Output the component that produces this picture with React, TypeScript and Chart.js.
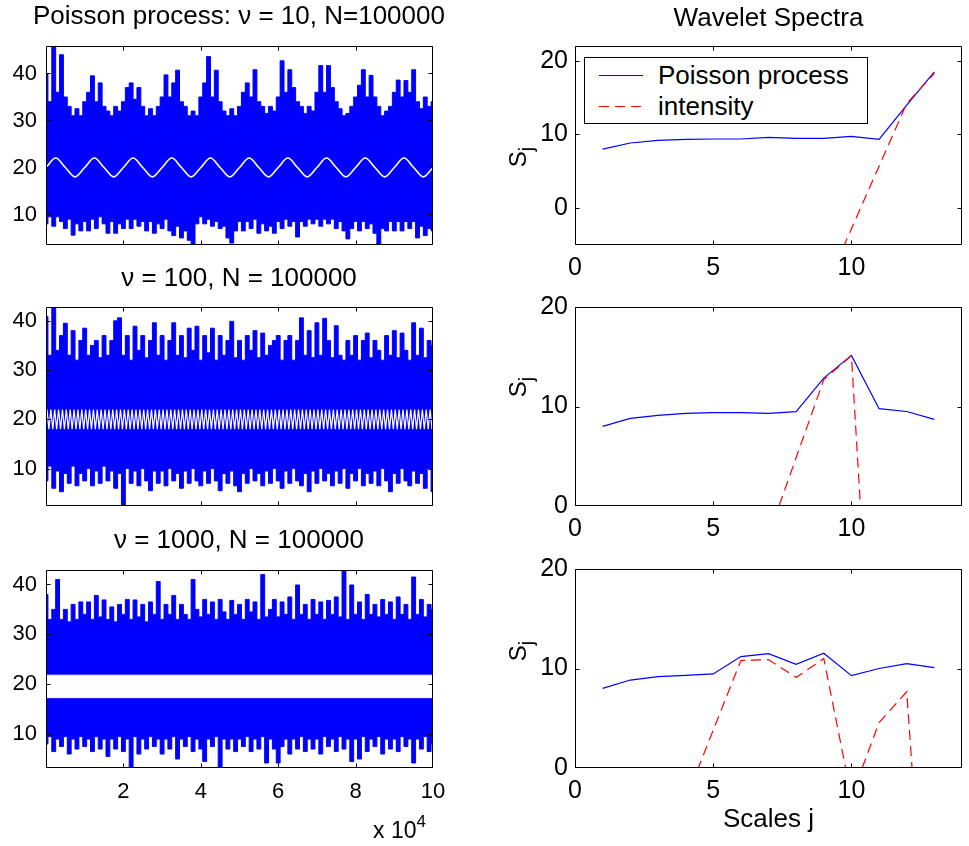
import React, { useEffect, useRef } from "react";
import { Chart, registerables } from "chart.js";

Chart.register(...registerables);

const FONT = "'Liberation Sans', Arial, Helvetica, sans-serif";

// ---------------- Left column: Poisson process traces ----------------
const TIME_MAX = 100000;
const ENVELOPE_STEP = 1000; // one envelope sample every 1000 time steps
const LEFT_X_TICKS = [20000, 40000, 60000, 80000, 100000];

// nu = 10 : upper / lower envelope of the dense trace
const NU10_UPPER = [
  40, 34, 45.8, 36, 44, 35, 33, 31, 32.5, 31,
  34, 36, 39.5, 34, 38, 33, 32, 31, 33, 32,
  34, 37, 38, 34.5, 37, 33, 31, 32.5, 31, 33,
  35, 39.7, 35, 38, 40.7, 34, 33, 31, 32, 31,
  35, 38, 43.6, 35, 40.7, 34, 32, 31, 32.5, 31,
  33, 36, 38, 35, 40.8, 34, 33, 31.5, 33, 32,
  35, 42.7, 36, 40.8, 37, 34, 33, 31.5, 33, 32,
  36, 41.7, 36, 41.7, 37, 34, 32.5, 31, 31.5, 33,
  35, 37.5, 40.8, 35, 39.6, 35, 33, 31, 32, 33,
  36, 38.6, 35, 38.5, 36, 40.8, 34, 32.5, 35, 33,
  34,
];
const NU10_LOWER = [
  8, 9.5, 7.5, 9.5, 8.5, 7, 9, 5.6, 8, 6.5,
  8.5, 6.5, 9, 7, 9.5, 8, 6, 8.5, 6, 8,
  7, 9, 7, 9, 7.5, 8.5, 6.5, 8.5, 6, 8,
  7, 9, 6.5, 5.5, 7.5, 5, 6.5, 4.5, 3.5, 8,
  9.5, 8, 9, 7.5, 8.5, 7, 7.5, 5, 3.9, 6.5,
  8.5, 6.5, 8.5, 7, 9, 6, 8, 6.5, 7.5, 6,
  8.5, 7, 9, 7.5, 8.5, 5.2, 8.5, 7.5, 9, 8,
  9, 7.5, 9, 8, 9, 7, 8.5, 6.5, 4.8, 7,
  8.5, 6.5, 8.5, 7, 8, 6, 3.5, 7, 6.5, 8.5,
  6.5, 8.5, 6.5, 8.5, 7, 8.5, 5, 7.5, 5.5, 7,
  6.5,
];
// intensity curve, sampled at its zero crossings and extremes
const NU10_INTENSITY_STEP = 2500;
const NU10_INTENSITY = [
  20, 22, 20, 18, 20, 22, 20, 18, 20, 22, 20, 18, 20, 22, 20, 18, 20, 22, 20, 18,
  20, 22, 20, 18, 20, 22, 20, 18, 20, 22, 20, 18, 20, 22, 20, 18, 20, 22, 20, 18,
  20,
];

// nu = 100
const NU100_UPPER = [
  40.9, 33, 42.8, 34, 37, 39.5, 33, 38, 32, 36,
  38.5, 33, 35, 36, 32.5, 37, 33, 36, 40, 40.6,
  33, 37, 32, 38.9, 34, 37, 32.5, 36, 39.6, 33,
  37, 32, 36, 39.6, 33, 37, 32.5, 38.5, 34, 38.9,
  32, 37, 33.5, 38.5, 32, 37, 33, 36, 39.9, 32.5,
  36, 32, 37, 34, 38, 32.5, 37.5, 33, 35, 36,
  37, 32, 36, 37, 32, 36, 40.6, 33, 38, 32.5,
  39.6, 33, 40.5, 36, 32.5, 39, 33, 32, 36, 33,
  37, 32, 36, 37.5, 32.5, 36, 34, 32, 37, 33,
  38, 32.5, 37.5, 34, 32, 39.6, 33, 38.5, 32.5, 36,
  35,
];
const NU100_LOWER = [
  7.5, 10.5, 6, 9.5, 5.3, 9, 7, 10.5, 6.5, 9,
  7.5, 10, 6.5, 9.5, 7, 10.5, 7.5, 9.5, 6, 9,
  2.4, 10, 7, 9.5, 6.5, 10, 7.5, 5.5, 9.5, 7,
  9.5, 6.5, 10, 7.5, 9, 6, 9.5, 7, 10, 7.5,
  6.5, 9.5, 7, 10, 7.5, 5.5, 9, 7, 9.5, 6.5,
  5.3, 9, 7, 10, 7.5, 9, 6.5, 9.5, 7, 10,
  7.5, 6, 9.5, 7, 10, 7.5, 6.5, 9, 5.3, 9.5,
  7, 10, 7.5, 9, 6.5, 9.5, 7, 10, 6, 9,
  7.5, 10, 6.5, 9, 7, 9.5, 6.5, 10, 7.5, 5.3,
  9, 7, 10, 7.5, 6.5, 9.5, 7, 9, 6, 10,
  5.3,
];
// intensity curve extremes (peak, trough, peak, ...)
const NU100_INTENSITY_START = 250;
const NU100_INTENSITY_STEP = 500;
const NU100_INTENSITY = [
  22, 18, 22, 18, 22, 18, 22, 18, 22, 18, 22, 18, 22, 18, 22, 18, 22, 18, 22, 18,
  22, 18, 22, 18, 22, 18, 22, 18, 22, 18, 22, 18, 22, 18, 22, 18, 22, 18, 22, 18,
  22, 18, 22, 18, 22, 18, 22, 18, 22, 18, 22, 18, 22, 18, 22, 18, 22, 18, 22, 18,
  22, 18, 22, 18, 22, 18, 22, 18, 22, 18, 22, 18, 22, 18, 22, 18, 22, 18, 22, 18,
  22, 18, 22, 18, 22, 18, 22, 18, 22, 18, 22, 18, 22, 18, 22, 18, 22, 18, 22, 18,
  22, 18, 22, 18, 22, 18, 22, 18, 22, 18, 22, 18, 22, 18, 22, 18, 22, 18, 22, 18,
  22, 18, 22, 18, 22, 18, 22, 18, 22, 18, 22, 18, 22, 18, 22, 18, 22, 18, 22, 18,
  22, 18, 22, 18, 22, 18, 22, 18, 22, 18, 22, 18, 22, 18, 22, 18, 22, 18, 22, 18,
  22, 18, 22, 18, 22, 18, 22, 18, 22, 18, 22, 18, 22, 18, 22, 18, 22, 18, 22, 18,
  22, 18, 22, 18, 22, 18, 22, 18, 22, 18, 22, 18, 22, 18, 22, 18, 22, 18, 22, 18,
];

// nu = 1000
const NU1000_UPPER = [
  38, 33, 35, 41, 33, 35, 32.5, 36, 33, 36.5,
  34, 36.5, 33, 37.8, 33.5, 36.9, 33, 35.5, 32.5, 36,
  34, 37, 33, 36.9, 33.5, 36, 32.5, 36.5, 34, 40.6,
  33, 36, 34, 37.8, 33, 36, 34, 33, 41, 35,
  33.5, 37, 34, 36.5, 33, 37, 34.5, 33, 36.8, 34,
  36, 33, 37, 34.5, 36.5, 33, 42, 33.5, 35, 37,
  33.5, 36.5, 34, 37.5, 33, 39.9, 34, 36, 33, 37,
  34, 36.5, 33, 36.8, 34, 37.5, 33.5, 42.9, 33, 39.9,
  34, 36.5, 33, 38, 34, 36, 33.5, 37, 34, 36.5,
  33, 37.5, 34, 36, 33, 41.5, 34, 37, 33.5, 36,
  35,
];
const NU1000_LOWER = [
  8, 9.5, 6.5, 9, 7.5, 9.5, 6, 9, 7, 9.5,
  7.5, 9, 6.5, 9.5, 7, 9, 5.5, 9, 7, 9.5,
  6.5, 9, 3.2, 9.5, 6, 9, 7, 9.5, 7.5, 9,
  6, 9, 7, 9.5, 5, 9, 7.5, 9.5, 6.5, 9,
  7, 4.5, 9, 7.5, 9.5, 3.3, 9, 7, 9, 6.5,
  9, 7.5, 9.5, 6.5, 9, 7, 9.5, 4.2, 9, 7,
  4.2, 7.5, 9, 6, 9, 7, 9.5, 6.5, 9, 7,
  9, 6, 9.5, 7.5, 9, 6.5, 9.5, 7, 9, 4.5,
  9, 5, 9.5, 6.5, 9, 7.5, 9.5, 6, 9, 7,
  9, 6.5, 9.5, 7.5, 9, 4.2, 9, 7, 9.5, 6.5,
  8,
];
// the 1000-cycle intensity curve fills a solid band
const NU1000_BAND_X = [0, 100000];
const NU1000_BAND_HI = [21.8, 21.8];
const NU1000_BAND_LO = [17.3, 17.3];

// ---------------- Right column: wavelet spectra ----------------
const SCALES_J = [1, 2, 3, 4, 5, 6, 7, 8, 9, 10, 11, 12, 13];
const RIGHT_X_TICKS = [0, 5, 10];

const SPEC10_POISSON = [8.0, 8.84, 9.2, 9.34, 9.38, 9.38, 9.6, 9.48, 9.48, 9.75, 9.34, 13.97, 18.5];
const SPEC10_INTENSITY = [null, null, null, null, null, null, null, null, -11.3, -2.8, 5.7, 14.2, 18.3];

const SPEC100_POISSON = [8.0, 8.8, 9.1, 9.3, 9.38, 9.38, 9.3, 9.48, 12.85, 15.14, 9.78, 9.5, 8.7];
const SPEC100_INTENSITY = [null, null, null, null, null, null, -2.98, 4.86, 12.7, 15.1, -31.4, null, null];

const SPEC1000_POISSON = [8.0, 8.84, 9.18, 9.31, 9.45, 11.2, 11.5, 10.42, 11.53, 9.28, 10.0, 10.48, 10.08];
const SPEC1000_INTENSITY = [null, null, null, -3.2, 3.8, 10.8, 10.9, 9.1, 11.0, -2.9, 4.57, 7.66, -32];

// ---------------- helpers ----------------
const series = (vals: (number | null)[], x0: number, step: number) =>
  vals.map((y, i) => ({ x: x0 + i * step, y }));
const pairs = (xs: number[], ys: (number | null)[]) => xs.map((x, i) => ({ x, y: ys[i] }));

const BLUE = "#0000ff";
const RED = "#ff0000";

const boxPlugin = {
  id: "matlabBox",
  afterDatasetsDraw(chart: any) {
    const { ctx, chartArea: a, scales } = chart;
    const xs = scales.x;
    const ys = scales.y;
    const TL = 4;
    const L = Math.round(a.left) + 0.5;
    const R = Math.round(a.right) - 0.5;
    const T = Math.round(a.top) + 0.5;
    const B = Math.round(a.bottom) - 0.5;
    ctx.save();
    ctx.strokeStyle = "#000";
    ctx.lineWidth = 1;
    ctx.beginPath();
    ctx.moveTo(L, T);
    ctx.lineTo(R, T);
    ctx.lineTo(R, B);
    ctx.lineTo(L, B);
    ctx.closePath();
    for (const t of xs.ticks) {
      const px = Math.min(R, Math.max(L, Math.round(xs.getPixelForValue(t.value)) + 0.5));
      ctx.moveTo(px, B);
      ctx.lineTo(px, B - TL);
      ctx.moveTo(px, T);
      ctx.lineTo(px, T + TL);
    }
    for (const t of ys.ticks) {
      const py = Math.min(B, Math.max(T, Math.round(ys.getPixelForValue(t.value)) + 0.5));
      ctx.moveTo(L, py);
      ctx.lineTo(L + TL, py);
      ctx.moveTo(R, py);
      ctx.lineTo(R - TL, py);
    }
    ctx.stroke();
    ctx.restore();
  },
};

type PanelCfg = {
  box: { left: number; top: number; right: number; bottom: number };
  padL: number;
  padR: number;
  padT: number;
  padB: number;
  xMin: number;
  xMax: number;
  xTicks: number[];
  xLabels: boolean;
  xFormat: (v: number) => string;
  xPad: number;
  yMin: number;
  yMax: number;
  yTicks: number[];
  yPad: number;
  tickSize: number;
  datasets: any[];
};

function buildConfig(c: PanelCfg) {
  const tickFont = { family: FONT, size: c.tickSize };
  return {
    type: "line",
    data: { datasets: c.datasets },
    options: {
      animation: false,
      responsive: false,
      maintainAspectRatio: false,
      devicePixelRatio: 1,
      events: [],
      layout: { padding: { left: 0, top: c.padT, right: c.padR, bottom: 0 } },
      plugins: {
        legend: { display: false },
        tooltip: { enabled: false },
        title: { display: false },
      },
      elements: { point: { radius: 0, hoverRadius: 0 }, line: { tension: 0 } },
      scales: {
        x: {
          type: "linear",
          min: c.xMin,
          max: c.xMax,
          grid: { display: false, drawTicks: false },
          border: { display: false },
          ticks: {
            display: c.xLabels,
            color: "#000",
            font: tickFont,
            padding: c.xPad,
            maxRotation: 0,
            minRotation: 0,
            autoSkip: false,
            callback: (v: any) => c.xFormat(Number(v)),
          },
          afterBuildTicks: (s: any) => {
            s.ticks = c.xTicks.map((v) => ({ value: v }));
          },
          afterFit: (s: any) => {
            s.height = c.padB;
          },
        },
        y: {
          type: "linear",
          min: c.yMin,
          max: c.yMax,
          grid: { display: false, drawTicks: false },
          border: { display: false },
          ticks: {
            color: "#000",
            font: tickFont,
            padding: c.yPad,
            autoSkip: false,
            callback: (v: any) => String(v),
          },
          afterBuildTicks: (s: any) => {
            s.ticks = c.yTicks.map((v) => ({ value: v }));
          },
          afterFit: (s: any) => {
            s.width = c.padL;
          },
        },
      },
    },
    plugins: [boxPlugin],
  };
}

function Panel({ cfg }: { cfg: PanelCfg }) {
  const ref = useRef<HTMLCanvasElement | null>(null);
  const w = cfg.padL + (cfg.box.right - cfg.box.left) + cfg.padR;
  const h = cfg.padT + (cfg.box.bottom - cfg.box.top) + cfg.padB;
  useEffect(() => {
    if (!ref.current) return;
    const chart = new Chart(ref.current, buildConfig(cfg) as any);
    return () => chart.destroy();
  }, [cfg]);
  return (
    <canvas
      ref={ref}
      width={w}
      height={h}
      style={{
        position: "absolute",
        left: cfg.box.left - cfg.padL,
        top: cfg.box.top - cfg.padT,
        width: w,
        height: h,
      }}
    />
  );
}

const traceSets = (upper: number[], lower: number[]) => [
  {
    data: series(upper, 0, ENVELOPE_STEP),
    borderColor: BLUE,
    backgroundColor: BLUE,
    borderWidth: 1,
    stepped: "middle",
    fill: "+1",
    pointRadius: 0,
  },
  {
    data: series(lower, 0, ENVELOPE_STEP),
    borderColor: BLUE,
    borderWidth: 1,
    stepped: "middle",
    fill: false,
    pointRadius: 0,
  },
];

const leftCommon = {
  padL: 46,
  padR: 25,
  padT: 30,
  xMin: 0,
  xMax: TIME_MAX,
  xTicks: LEFT_X_TICKS,
  xFormat: (v: number) => String(v / 10000),
  xPad: 11,
  yTicks: [10, 20, 30, 40],
  yPad: 9,
  tickSize: 22,
};

const rightCommon = {
  padL: 75,
  padR: 7,
  padT: 30,
  padB: 45,
  xMin: 0,
  xMax: 14,
  xTicks: RIGHT_X_TICKS,
  xLabels: true,
  xFormat: (v: number) => String(v),
  xPad: 8,
  yTicks: [0, 10, 20],
  yPad: 7,
  tickSize: 25,
};

const specSets = (poisson: (number | null)[], intensity: (number | null)[]) => [
  {
    data: pairs(SCALES_J, intensity),
    borderColor: RED,
    borderWidth: 1.2,
    borderDash: [10, 6],
    fill: false,
    pointRadius: 0,
  },
  {
    data: pairs(SCALES_J, poisson),
    borderColor: BLUE,
    borderWidth: 1.2,
    fill: false,
    pointRadius: 0,
  },
];

const PANELS: PanelCfg[] = [
  {
    ...leftCommon,
    box: { left: 46, top: 46, right: 433, bottom: 245 },
    padB: 45,
    xLabels: false,
    yMin: 3.5,
    yMax: 45.85,
    datasets: [
      {
        data: series(NU10_INTENSITY, 0, NU10_INTENSITY_STEP),
        borderColor: "#ffffff",
        borderWidth: 1.6,
        cubicInterpolationMode: "monotone",
        fill: false,
        pointRadius: 0,
      },
      ...traceSets(NU10_UPPER, NU10_LOWER),
    ],
  },
  {
    ...leftCommon,
    box: { left: 46, top: 307, right: 433, bottom: 506 },
    padB: 45,
    xLabels: false,
    yMin: 2.4,
    yMax: 42.8,
    datasets: [
      {
        data: series(NU100_INTENSITY, NU100_INTENSITY_START, NU100_INTENSITY_STEP),
        borderColor: "#ffffff",
        borderWidth: 1.2,
        fill: false,
        pointRadius: 0,
      },
      ...traceSets(NU100_UPPER, NU100_LOWER),
    ],
  },
  {
    ...leftCommon,
    box: { left: 46, top: 570, right: 433, bottom: 768 },
    padB: 50,
    xLabels: true,
    yMin: 3.2,
    yMax: 42.9,
    datasets: [
      {
        data: pairs(NU1000_BAND_X, NU1000_BAND_HI),
        borderColor: "#ffffff",
        backgroundColor: "#ffffff",
        borderWidth: 1,
        fill: "+1",
        pointRadius: 0,
      },
      {
        data: pairs(NU1000_BAND_X, NU1000_BAND_LO),
        borderColor: "#ffffff",
        borderWidth: 1,
        fill: false,
        pointRadius: 0,
      },
      ...traceSets(NU1000_UPPER, NU1000_LOWER),
    ],
  },
  {
    ...rightCommon,
    box: { left: 575, top: 46, right: 962, bottom: 245 },
    yMin: -5,
    yMax: 22,
    datasets: specSets(SPEC10_POISSON, SPEC10_INTENSITY),
  },
  {
    ...rightCommon,
    box: { left: 575, top: 307, right: 962, bottom: 506 },
    yMin: 0,
    yMax: 20,
    datasets: specSets(SPEC100_POISSON, SPEC100_INTENSITY),
  },
  {
    ...rightCommon,
    box: { left: 575, top: 569, right: 962, bottom: 768 },
    yMin: 0,
    yMax: 20,
    datasets: specSets(SPEC1000_POISSON, SPEC1000_INTENSITY),
  },
];

const titleStyle = (left: number, width: number, top: number): React.CSSProperties => ({
  position: "absolute",
  left,
  top,
  width,
  textAlign: "center",
  fontSize: 26,
  lineHeight: "30px",
  whiteSpace: "nowrap",
});

function SLabel({ cx, cy }: { cx: number; cy: number }) {
  return (
    <div
      style={{
        position: "absolute",
        left: cx - 40,
        top: cy - 15,
        width: 80,
        height: 30,
        lineHeight: "30px",
        textAlign: "center",
        fontSize: 24,
        transform: "rotate(-90deg)",
        whiteSpace: "nowrap",
      }}
    >
      S<span style={{ fontSize: 20, position: "relative", top: 7 }}>j</span>
    </div>
  );
}

export default function App() {
  return (
    <div
      style={{
        position: "fixed",
        left: 0,
        top: 0,
        width: 969,
        height: 846,
        background: "#fff",
        color: "#000",
        fontFamily: FONT,
        overflow: "hidden",
      }}
    >
      {PANELS.map((p, i) => (
        <Panel key={i} cfg={p} />
      ))}

      <div style={titleStyle(0, 478, 0)}>Poisson process: ν = 10, N=100000</div>
      <div style={titleStyle(575, 387, 2)}>Wavelet Spectra</div>
      <div style={titleStyle(0, 478, 262)}>ν = 100, N = 100000</div>
      <div style={titleStyle(0, 478, 524)}>ν = 1000, N = 100000</div>
      <div style={titleStyle(575, 387, 803)}>Scales j</div>

      <div
        style={{
          position: "absolute",
          left: 373,
          top: 817,
          fontSize: 23,
          lineHeight: "26px",
          whiteSpace: "nowrap",
        }}
      >
        x 10<span style={{ fontSize: 17, position: "relative", top: -11 }}>4</span>
      </div>

      <SLabel cx={517.5} cy={157} />
      <SLabel cx={517.5} cy={387} />
      <SLabel cx={517.5} cy={651} />

      {/* legend of the first spectrum panel */}
      <div
        style={{
          position: "absolute",
          left: 584,
          top: 57,
          width: 284,
          height: 67,
          boxSizing: "border-box",
          border: "1px solid #000",
          background: "#fff",
        }}
      >
        <svg
          width={60}
          height={60}
          style={{ position: "absolute", left: 10, top: 0 }}
        >
          <line x1={4} y1={17.5} x2={48} y2={17.5} stroke={BLUE} strokeWidth={1.2} />
          <line
            x1={4}
            y1={48.5}
            x2={48}
            y2={48.5}
            stroke={RED}
            strokeWidth={1.2}
            strokeDasharray="10 6"
          />
        </svg>
        <div
          style={{
            position: "absolute",
            left: 73,
            top: 2,
            fontSize: 26,
            lineHeight: "30px",
            whiteSpace: "nowrap",
          }}
        >
          Poisson process
        </div>
        <div
          style={{
            position: "absolute",
            left: 73,
            top: 33,
            fontSize: 26,
            lineHeight: "30px",
            whiteSpace: "nowrap",
          }}
        >
          intensity
        </div>
      </div>
    </div>
  );
}
